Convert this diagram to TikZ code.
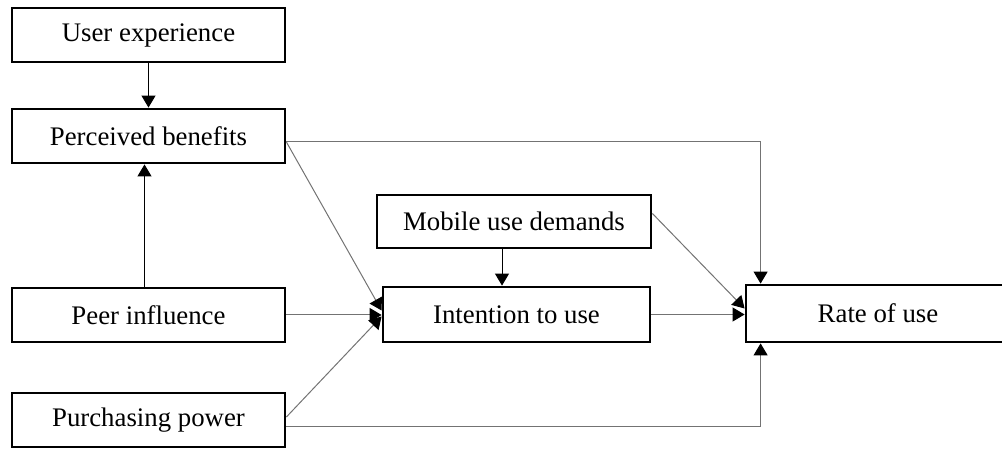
\documentclass[tikz,border=0pt]{standalone}
\usepackage{fontspec}
\setmainfont{Liberation Serif}
\usetikzlibrary{arrows.meta}
\tikzset{factor/.style={draw,line width=2.8pt,inner sep=0pt,minimum height=54pt,
           font=\fontsize{26.8}{30}\selectfont},
         link/.style={-{Triangle[length=12pt,width=14pt,color=black]},line width=1pt,black!55},
         drop/.style={-{Triangle[length=12pt,width=14pt]},line width=1pt,black}}

\begin{document}
\begin{tikzpicture}[x=1pt,y=-1pt]
  \useasboundingbox (0,0) rectangle (1002,449);
  \node[factor,minimum width=273pt] (ue)  at (148.5,35)   {User experience};
  \node[factor,minimum width=273pt] (pb)  at (148.5,136)  {Perceived benefits};
  \node[factor,minimum width=273pt] (pi)  at (148.5,315)  {Peer influence};
  \node[factor,minimum width=273pt] (pp)  at (148.5,420)  {Purchasing power};
  \node[factor,minimum width=274pt,minimum height=53pt] (mud) at (514,221.5)
    {Mobile use demands};
  \node[factor,minimum width=267pt,minimum height=55pt] (itu) at (516.5,314.5)
    {Intention to use};
  \node[factor,minimum width=290pt,minimum height=57pt] (rou) at (891,313.5)
    {\hspace*{-26pt}Rate of use};
  % left column
  \draw[drop] (ue.south) -- (pb.north);
  \draw[drop] ([xshift=-4pt]pi.north) -- ([xshift=-4pt]pb.south);
  % into intention
  \draw[link] ([yshift=-6pt]pb.east) -- ([yshift=4pt]itu.west);
  \draw[link] (pi.east) -- (pi.east -| itu.west);
  \draw[link] ([yshift=3pt]pp.east) -- ([yshift=-2pt]itu.west);
  \draw[drop] ([xshift=-12pt]mud.south) -- ([xshift=-12pt]mud.south |- itu.north);
  % into rate of use
  \draw[link] ([yshift=-6pt]pb.east) -| ([xshift=16pt]rou.north west);
  \draw[link] ([yshift=8pt]mud.east) -- ([yshift=5pt]rou.west);
  \draw[link] (itu.east) -- (itu.east -| rou.west);
  \draw[link] ([yshift=-6pt]pp.east) -| ([xshift=16pt]rou.south west);
\end{tikzpicture}
\end{document}
